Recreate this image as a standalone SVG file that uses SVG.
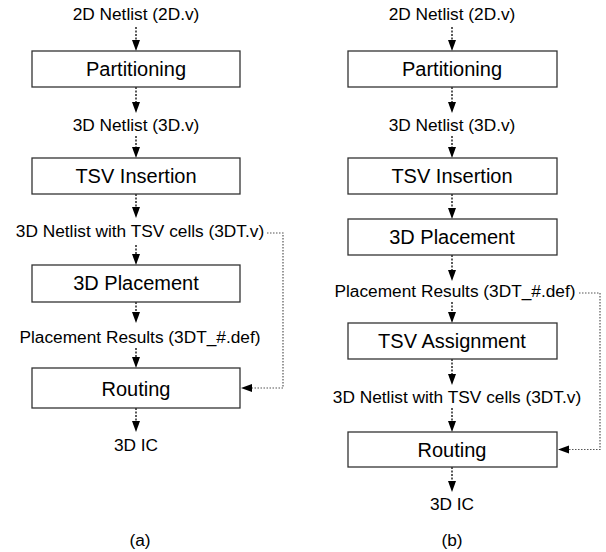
<svg xmlns="http://www.w3.org/2000/svg" width="606" height="552" viewBox="0 0 606 552">
<defs>
<marker id="ah" markerWidth="8" markerHeight="11" refX="4" refY="11" orient="auto-start-reverse" markerUnits="userSpaceOnUse" viewBox="0 0 8 11">
<path d="M0,0 L8,0 L4,11 Z" fill="#000"/>
</marker>
<marker id="ahl" markerWidth="11" markerHeight="8" refX="11" refY="4" orient="auto" markerUnits="userSpaceOnUse" viewBox="0 0 11 8">
<path d="M0,0 L11,4 L0,8 Z" fill="#000"/>
</marker>
<style>
.box{fill:#fff;stroke:#333;stroke-width:1.3}
.bt{font-family:"Liberation Sans",Arial,sans-serif;font-size:20px;fill:#000;text-anchor:middle}
.lb{font-family:"Liberation Sans",Arial,sans-serif;font-size:17.3px;fill:#000;text-anchor:middle}
.ar{stroke:#000;stroke-width:1.3;stroke-dasharray:2,1.5;fill:none}
.fb{stroke:#555;stroke-width:1.2;stroke-dasharray:1.5,1.5;fill:none}
</style>
</defs>
<rect width="606" height="552" fill="#fff"/>
<g id="connectors">
<line class="ar" x1="136" y1="27" x2="136" y2="40"/>
<line class="ar" x1="136" y1="87" x2="136" y2="102"/>
<line class="ar" x1="136" y1="136" x2="136" y2="147"/>
<line class="ar" x1="136" y1="194" x2="136" y2="207"/>
<line class="ar" x1="136" y1="245" x2="136" y2="254"/>
<line class="ar" x1="136" y1="302" x2="136" y2="312"/>
<line class="ar" x1="136" y1="348" x2="136" y2="357"/>
<line class="ar" x1="136" y1="408" x2="136" y2="421"/>
<path d="M136,38 v13 M136,100 v13 M136,145 v13 M136,205 v13 M136,252 v13 M136,310 v13 M136,355 v13 M136,419 v13" stroke="none" fill="none"/>
<g fill="#000">
<path d="M132,40 L140,40 L136,51 Z"/>
<path d="M132,102 L140,102 L136,113 Z"/>
<path d="M132,147 L140,147 L136,158 Z"/>
<path d="M132,207 L140,207 L136,218 Z"/>
<path d="M132,254 L140,254 L136,265 Z"/>
<path d="M132,312 L140,312 L136,323 Z"/>
<path d="M132,357 L140,357 L136,368 Z"/>
<path d="M132,421 L140,421 L136,432 Z"/>
</g>
<polyline class="fb" points="267,233 283,233 283,388 252,388"/>
<path d="M241,388 L252,384 L252,392 Z" fill="#000"/>

<line class="ar" x1="452" y1="27" x2="452" y2="40"/>
<line class="ar" x1="452" y1="87" x2="452" y2="102"/>
<line class="ar" x1="452" y1="136" x2="452" y2="147"/>
<line class="ar" x1="452" y1="194" x2="452" y2="208"/>
<line class="ar" x1="452" y1="255" x2="452" y2="270"/>
<line class="ar" x1="452" y1="302" x2="452" y2="312"/>
<line class="ar" x1="452" y1="359" x2="452" y2="374"/>
<line class="ar" x1="452" y1="408" x2="452" y2="421"/>
<line class="ar" x1="452" y1="467" x2="452" y2="481"/>
<g fill="#000">
<path d="M448,40 L456,40 L452,51 Z"/>
<path d="M448,102 L456,102 L452,113 Z"/>
<path d="M448,147 L456,147 L452,158 Z"/>
<path d="M448,208 L456,208 L452,219 Z"/>
<path d="M448,270 L456,270 L452,281 Z"/>
<path d="M448,312 L456,312 L452,323 Z"/>
<path d="M448,374 L456,374 L452,385 Z"/>
<path d="M448,421 L456,421 L452,432 Z"/>
<path d="M448,481 L456,481 L452,492 Z"/>
</g>
<polyline class="fb" points="579,293 600,293 600,449.5 569,449.5"/>
<path d="M558,449.5 L569,445.5 L569,453.5 Z" fill="#000"/>
</g>

<g id="label-a-2d"><text class="lb" x="136" y="20">2D Netlist (2D.v)</text></g>
<g id="node-a-partitioning"><rect class="box" x="32" y="51" width="208" height="36"/><text class="bt" x="136" y="76">Partitioning</text></g>
<g id="label-a-3d"><text class="lb" x="136" y="131">3D Netlist (3D.v)</text></g>
<g id="node-a-tsv"><rect class="box" x="32" y="158" width="208" height="36"/><text class="bt" x="136" y="183">TSV Insertion</text></g>
<g id="label-a-3dt"><text class="lb" x="140" y="237">3D Netlist with TSV cells (3DT.v)</text></g>
<g id="node-a-place"><rect class="box" x="32" y="265" width="208" height="37"/><text class="bt" x="136" y="290">3D Placement</text></g>
<g id="label-a-pr"><text class="lb" x="140" y="343">Placement Results (3DT_#.def)</text></g>
<g id="node-a-route"><rect class="box" x="32" y="368" width="208" height="40"/><text class="bt" x="136" y="396">Routing</text></g>
<g id="label-a-ic"><text class="lb" x="136" y="451">3D IC</text></g>
<text class="lb" x="140" y="546">(a)</text>

<g id="label-b-2d"><text class="lb" x="452" y="20">2D Netlist (2D.v)</text></g>
<g id="node-b-partitioning"><rect class="box" x="348" y="51" width="209" height="36"/><text class="bt" x="452" y="76">Partitioning</text></g>
<g id="label-b-3d"><text class="lb" x="452" y="131">3D Netlist (3D.v)</text></g>
<g id="node-b-tsv"><rect class="box" x="348" y="158" width="209" height="36"/><text class="bt" x="452" y="183">TSV Insertion</text></g>
<g id="node-b-place"><rect class="box" x="348" y="219" width="209" height="36"/><text class="bt" x="452" y="244">3D Placement</text></g>
<g id="label-b-pr"><text class="lb" x="455" y="297">Placement Results (3DT_#.def)</text></g>
<g id="node-b-assign"><rect class="box" x="348" y="323" width="209" height="36"/><text class="bt" x="452" y="348">TSV Assignment</text></g>
<g id="label-b-3dt"><text class="lb" x="457" y="403">3D Netlist with TSV cells (3DT.v)</text></g>
<g id="node-b-route"><rect class="box" x="348" y="432" width="209" height="35"/><text class="bt" x="452" y="457">Routing</text></g>
<g id="label-b-ic"><text class="lb" x="452" y="510">3D IC</text></g>
<text class="lb" x="452" y="546">(b)</text>
</svg>
